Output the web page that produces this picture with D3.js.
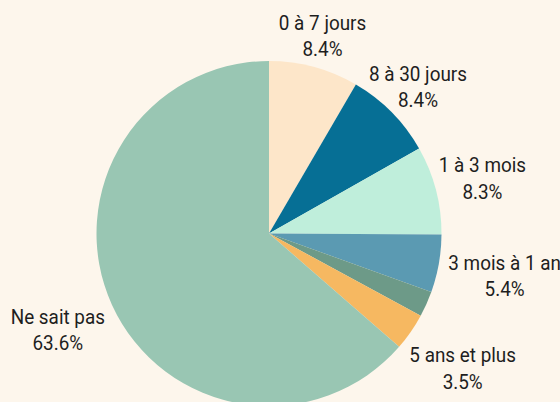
<!DOCTYPE html>
<html>
<head>
<meta charset="utf-8">
<script src="https://cdn.jsdelivr.net/npm/d3@7"></script>
<style>
  html, body { margin: 0; padding: 0; background: #fdf6ec; }
  svg { display: block; }
  text { font-family: Roboto, "Noto Sans", sans-serif; font-size: 21px; fill: #1e1e1e; }
</style>
</head>
<body>
<svg id="chart" width="560" height="402"></svg>
<script>
// ---- data ----
const categories = ["0 à 7 jours", "8 à 30 jours", "1 à 3 mois", "3 mois à 1 an", "1 à 5 ans", "5 ans et plus", "Ne sait pas"];
const values = [8.4, 8.4, 8.3, 5.4, 2.4, 3.5, 63.6];
const colors = ["#fde6c9", "#066f95", "#bfeedb", "#5b9ab2", "#6d9a88", "#f6b861", "#99c6b3"];
const labelThreshold = 3; // slices under this share get no label

// ---- layout ----
const W = 560, H = 402;
const cx = 269, cy = 233.5, R = 172.5;
const gap = 8, lineGap = 26.5, capH = 15;
const squeeze = 0.9; // horizontal compression to mimic a narrow grotesque face

const svg = d3.select("#chart");
svg.append("rect").attr("width", W).attr("height", H).attr("fill", "#fdf6ec");

const data = categories.map((c, i) => ({ name: c, value: values[i] }));
const color = d3.scaleOrdinal().domain(categories).range(colors);
const pie = d3.pie().value(d => d.value).sort(null);
const arc = d3.arc().innerRadius(0).outerRadius(R);
const arcs = pie(data);

const g = svg.append("g").attr("transform", `translate(${cx},${cy})`);
g.selectAll("path.slice").data(arcs).join("path")
  .attr("class", "slice")
  .attr("d", arc)
  .attr("fill", d => color(d.data.name));

const fmt = v => d3.format(".1f")(v) + "%";

function boxDist(x0, y0, x1, y1) {
  const dx = Math.max(x0, 0, -x1);
  const dy = Math.max(y0, 0, -y1);
  return Math.hypot(dx, dy);
}

const labels = g.selectAll("g.label").data(arcs.filter(d => d.data.value >= labelThreshold)).join("g")
  .attr("class", "label");

labels.each(function(d) {
  const sel = d3.select(this);
  const inner = sel.append("g");
  const t1 = inner.append("text").attr("text-anchor", "middle").attr("x", 0).text(d.data.name);
  const t2 = inner.append("text").attr("text-anchor", "middle").attr("x", 0).text(fmt(d.data.value));
  const w1 = t1.node().getComputedTextLength() * squeeze;
  const w2 = t2.node().getComputedTextLength() * squeeze;
  const a = (d.startAngle + d.endAngle) / 2;
  const ux = Math.sin(a), uy = -Math.cos(a);
  const fits = (t) => {
    const px = ux * t, py = uy * t;
    const b1 = py - lineGap / 2 + capH / 2;
    const b2 = py + lineGap / 2 + capH / 2;
    const d1 = boxDist(px - w1 / 2, b1 - capH, px + w1 / 2, b1);
    const d2 = boxDist(px - w2 / 2, b2 - capH, px + w2 / 2, b2);
    return Math.min(d1, d2) >= R + gap;
  };
  let lo = R * 0.5, hi = R * 2.5;
  for (let k = 0; k < 40; k++) {
    const m = (lo + hi) / 2;
    if (fits(m)) hi = m; else lo = m;
  }
  const px = ux * hi, py = uy * hi;
  sel.attr("transform", `translate(${px},${py})`);
  inner.attr("transform", `scale(${squeeze},1)`);
  t1.attr("y", -lineGap / 2 + capH / 2);
  t2.attr("y", lineGap / 2 + capH / 2);
});
</script>
</body>
</html>
